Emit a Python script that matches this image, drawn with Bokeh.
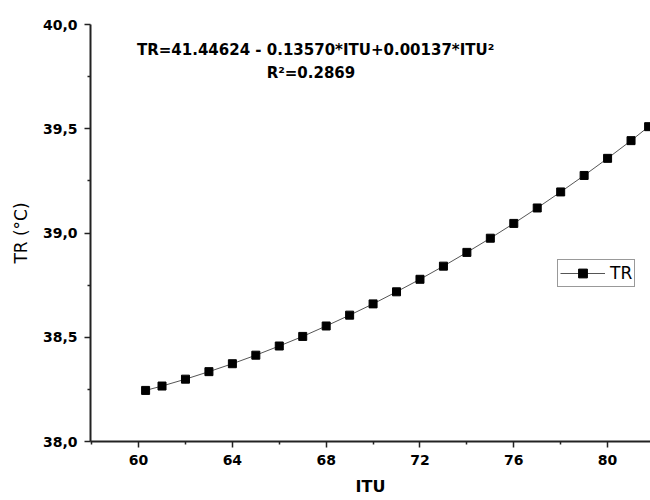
from bokeh.plotting import figure
from bokeh.models import (Range1d, FixedTicker, CustomJSTickFormatter, Label,
                          Legend, LegendItem, ColumnDataSource)
from bokeh.embed import file_html
from bokeh.resources import INLINE

# Data
itu = [60.3, 61, 62, 63, 64, 65, 66, 67, 68, 69, 70, 71, 72, 73, 74, 75,
       76, 77, 78, 79, 80, 81, 81.75]
tr = [38.245, 38.266, 38.299, 38.335, 38.373, 38.414, 38.458, 38.504,
      38.554, 38.606, 38.660, 38.718, 38.778, 38.841, 38.907, 38.975,
      39.046, 39.120, 39.197, 39.276, 39.358, 39.443, 39.51]
x_ticks = [60, 64, 68, 72, 76, 80]
x_minor = [58, 62, 66, 70, 74, 78, 82]
y_ticks = [38.0, 38.5, 39.0, 39.5, 40.0]
y_minor = [38.25, 38.75, 39.25, 39.75]
equation = "TR=41.44624 - 0.13570*ITU+0.00137*ITU\u00b2"
r2_text = "R\u00b2=0.2869"

src = ColumnDataSource(dict(x=itu, y=tr))

p = figure(width=650, height=500, output_backend="svg", toolbar_location=None,
           x_range=Range1d(57.95, 81.83), y_range=Range1d(38.0, 40.0),
           min_border_left=90, min_border_right=0, min_border_top=24,
           min_border_bottom=59)
p.outline_line_color = None
p.xgrid.visible = False
p.ygrid.visible = False
p.background_fill_color = "white"
p.border_fill_color = "white"

line_r = p.line("x", "y", source=src, line_color="#555555", line_width=1)
sc_r = p.scatter("x", "y", source=src, marker="square", size=8,
                 fill_color="black", line_color="black")

for ax in (p.xaxis[0], p.yaxis[0]):
    ax.axis_line_color = "#222222"
    ax.axis_line_width = 2
    ax.major_tick_line_color = "#222222"
    ax.minor_tick_line_color = "#222222"
    ax.major_tick_line_width = 1.5
    ax.minor_tick_line_width = 1.5
    ax.major_tick_out = 6
    ax.major_tick_in = 0
    ax.minor_tick_out = 3
    ax.minor_tick_in = 0
    ax.major_label_text_font = "DejaVu Sans"
    ax.major_label_text_font_style = "bold"
    ax.major_label_text_font_size = "14px"
    ax.major_label_text_color = "black"
    ax.axis_label_text_color = "black"

p.xaxis[0].ticker = FixedTicker(ticks=x_ticks, minor_ticks=x_minor)
p.yaxis[0].ticker = FixedTicker(ticks=y_ticks, minor_ticks=y_minor)
p.yaxis[0].formatter = CustomJSTickFormatter(
    code="return tick.toFixed(1).replace('.', ',');")
p.xaxis[0].major_label_standoff = 7
p.yaxis[0].major_label_standoff = 7

p.xaxis[0].axis_label = "ITU"
p.xaxis[0].axis_label_text_font = "DejaVu Sans"
p.xaxis[0].axis_label_text_font_style = "bold"
p.xaxis[0].axis_label_text_font_size = "16px"
p.xaxis[0].axis_label_standoff = 9

p.yaxis[0].axis_label = "TR (\u00b0C)"
p.yaxis[0].axis_label_text_font = "DejaVu Sans"
p.yaxis[0].axis_label_text_font_style = "normal"
p.yaxis[0].axis_label_text_font_size = "17px"
p.yaxis[0].axis_label_standoff = 9

p.add_layout(Label(x=67.55, y=39.88, text=equation, text_align="center",
                   text_baseline="middle", text_font="DejaVu Sans",
                   text_font_style="bold", text_font_size="15px",
                   text_color="black"))
p.add_layout(Label(x=67.35, y=39.765, text=r2_text, text_align="center",
                   text_baseline="middle", text_font="DejaVu Sans",
                   text_font_style="bold", text_font_size="15px",
                   text_color="black"))

legend = Legend(items=[LegendItem(label="TR", renderers=[line_r, sc_r])],
                location=(467, 154))
legend.border_line_color = "#333333"
legend.border_line_width = 1
legend.background_fill_alpha = 1
legend.label_text_font = "DejaVu Sans"
legend.label_text_font_size = "17px"
legend.label_text_color = "black"
legend.glyph_width = 45
legend.glyph_height = 22
legend.padding = 2
legend.margin = 0
legend.spacing = 0
legend.label_standoff = 5
p.add_layout(legend)

open("out.html", "w").write(file_html(p, INLINE))
